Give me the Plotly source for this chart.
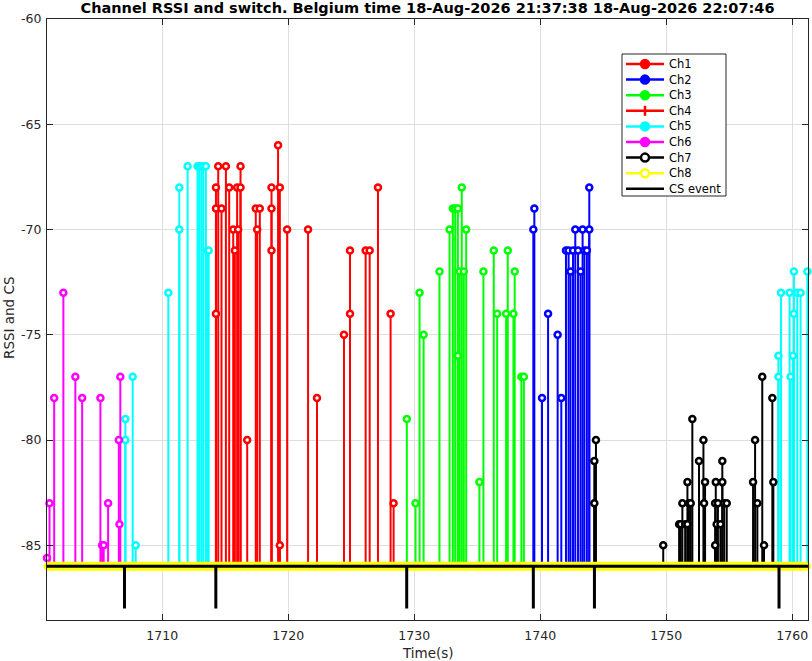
import plotly.graph_objects as go

# ---------------- data ----------------
ch1_t = [1714.26, 1714.26, 1714.26, 1714.44, 1714.7, 1715.05, 1715.31, 1715.63, 1715.76, 1715.94,
         1716.02, 1716.21, 1716.21, 1716.74, 1717.42, 1717.53, 1717.74, 1718.67, 1718.67, 1718.67,
         1719.19, 1719.33, 1719.33, 1719.91, 1721.57, 1722.28, 1724.42, 1724.9, 1724.9, 1726.14,
         1726.46, 1727.12, 1728.12, 1728.36]
ch1_v = [-68, -69, -74, -67, -69, -67, -68, -70, -71, -68,
         -70, -68, -67, -80, -69, -70, -69, -68, -69, -71,
         -66, -68, -85, -70, -70, -78, -75, -71, -74, -71,
         -71, -68, -74, -83]

ch2_t = [1739.45, 1739.53, 1740.14, 1740.62, 1741.38, 1741.67, 1742.04, 1742.25, 1742.4, 1742.6,
         1742.78, 1743.0, 1743.2, 1743.36, 1743.5, 1743.7, 1743.89, 1743.89]
ch2_v = [-70, -69, -78, -74, -75, -78, -71, -71, -72, -71,
         -70, -71, -72, -70, -71, -71, -70, -68]

ch3_t = [1729.41, 1730.1, 1730.42, 1730.74, 1732.0, 1732.8, 1733.06, 1733.25, 1733.46, 1733.46,
         1733.6, 1733.77, 1733.93, 1734.12, 1735.17, 1735.49, 1736.31, 1736.58, 1737.29, 1737.42,
         1737.87, 1737.97, 1738.5, 1738.7]
ch3_v = [-79, -83, -73, -75, -72, -70, -69, -69, -69, -76,
         -72, -68, -72, -70, -82, -72, -71, -74, -74, -71,
         -74, -72, -77, -77]

ch4_t = []
ch4_v = []

ch5_t = [1707.07, 1707.07, 1707.65, 1707.89, 1710.48, 1711.35, 1711.35, 1712.01, 1712.8, 1712.93,
         1713.1, 1713.25, 1713.46, 1713.6, 1713.68, 1758.9, 1758.9, 1759.11, 1759.79, 1759.87,
         1760.05, 1760.13, 1760.13, 1760.4, 1760.66, 1761.2]
ch5_v = [-79, -80, -77, -85, -73, -68, -70, -67, -67, -67,
         -67, -67, -67, -71, -71, -76, -77, -73, -73, -77,
         -76, -74, -72, -73, -73, -72]

ch6_t = [1700.85, 1701.05, 1701.42, 1702.15, 1703.1, 1703.64, 1705.09, 1705.22, 1705.35, 1705.7,
         1706.55, 1706.6, 1706.67]
ch6_v = [-85.6, -83, -78, -73, -77, -78, -78, -85, -85, -83,
         -80, -84, -77]

ch7_t = [1744.29, 1744.29, 1744.42, 1749.76, 1751.02, 1751.15, 1751.28, 1751.5, 1751.68, 1751.68,
         1751.8, 1751.94, 1752.07, 1752.6, 1752.95, 1753.0, 1753.08, 1753.88, 1753.88, 1753.93,
         1754.0, 1754.1, 1754.3, 1754.45, 1754.45, 1754.6, 1754.8, 1756.89, 1757.05, 1757.23,
         1757.62, 1757.76, 1758.42, 1758.5]
ch7_v = [-81, -83, -80, -85, -84, -84, -83, -84, -82, -84,
         -83, -83, -79, -81, -80, -83, -82, -83, -85, -82,
         -84, -83, -84, -81, -82, -83, -83, -82, -80, -83,
         -77, -85, -78, -82]

ch8_t = [1700.85, 1761.2]
ch8_v = [-86, -86]

cs_t = [1707.0, 1714.25, 1729.4, 1739.45, 1744.3, 1758.95]
cs_base = -86
cs_depth = -88

x_range = [1700.85, 1761.25]
y_range = [-88.55, -60]
x_ticks = [1710, 1720, 1730, 1740, 1750, 1760]
y_ticks = [-85, -80, -75, -70, -65, -60]

legend_names = ["Ch1", "Ch2", "Ch3", "Ch4", "Ch5", "Ch6", "Ch7", "Ch8", "CS event"]
title_text = "Channel RSSI and switch. Belgium time 18-Aug-2026 21:37:38 18-Aug-2026 22:07:46"
x_label = "Time(s)"
y_label = "RSSI and CS"

# ---------------- layout geometry (pixels) ----------------
W, H = 812, 661
L, R, T, B = 47, 808, 19, 620


def pxx(x):
    return (x - L) / (R - L)


def pxy(y):
    return (B - y) / (B - T)


font = "DejaVu Sans, Liberation Sans, sans-serif"
fig = go.Figure()


def stem_xy(t, v, base):
    xs, ys = [], []
    for a, b in zip(t, v):
        xs += [a, a, None]
        ys += [base, b, None]
    return xs, ys


channels = [
    ("Ch1", ch1_t, ch1_v, "#ff0000", "circle"),
    ("Ch2", ch2_t, ch2_v, "#0000ff", "circle"),
    ("Ch3", ch3_t, ch3_v, "#00ff00", "circle"),
    ("Ch4", ch4_t, ch4_v, "#ff0000", "cross"),
    ("Ch5", ch5_t, ch5_v, "#00ffff", "circle"),
    ("Ch6", ch6_t, ch6_v, "#ff00ff", "circle"),
    ("Ch7", ch7_t, ch7_v, "#000000", "circle"),
    ("Ch8", ch8_t, ch8_v, "#ffff00", "circle"),
]

for name, t, v, col, sym in channels[:7]:
    if not t:
        continue
    xs, ys = stem_xy(t, v, cs_base)
    fig.add_trace(go.Scatter(x=xs, y=ys, mode="lines", line=dict(color=col, width=2),
                             showlegend=False, hoverinfo="skip", name=name))
    fig.add_trace(go.Scatter(x=t, y=v, mode="markers", cliponaxis=False, name=name,
                             marker=dict(symbol="circle", size=6, color="white",
                                         line=dict(color=col, width=2.5)),
                             showlegend=False))

# Ch8 at the baseline
fig.add_trace(go.Scatter(x=ch8_t, y=ch8_v, mode="lines", line=dict(color="#ffff00", width=9),
                         showlegend=False, hoverinfo="skip", name="Ch8"))
fig.add_trace(go.Scatter(x=ch8_t, y=ch8_v, mode="markers", cliponaxis=False, name="Ch8",
                         marker=dict(symbol="circle", size=5, color="#ffff00",
                                     line=dict(color="#ffff00", width=2)),
                         showlegend=False, hoverinfo="skip"))

# CS event line with spikes
cs_x = [x_range[0]]
cs_y = [cs_base]
for a in cs_t:
    cs_x += [a, a, a]
    cs_y += [cs_base, cs_depth, cs_base]
cs_x.append(x_range[1])
cs_y.append(cs_base)
fig.add_trace(go.Scatter(x=cs_x, y=cs_y, mode="lines", name="CS event", showlegend=False,
                         line=dict(color="#000000", width=3)))

axis_common = dict(
    showgrid=True, gridcolor="#dedede", gridwidth=1,
    showline=True, linecolor="#262626", linewidth=1, mirror="ticks",
    ticks="inside", ticklen=6, tickcolor="#262626", tickwidth=1,
    zeroline=False, automargin=False,
    tickfont=dict(family=font, size=12.5, color="#262626"),
)

# ---------------- hand-drawn legend box (MATLAB style, compact) ----------------
shapes = []
annotations = []
lg_left, lg_right, lg_top, lg_bottom = 622, 726, 54, 196
shapes.append(dict(type="rect", xref="paper", yref="paper", layer="above",
                   x0=pxx(lg_left), x1=pxx(lg_right), y0=pxy(lg_bottom), y1=pxy(lg_top),
                   fillcolor="white", line=dict(color="#262626", width=1)))
legend_items = [(c[0], c[3], c[4]) for c in channels] + [("CS event", "#000000", None)]
for i, (name, col, sym) in enumerate(legend_items):
    yc = 64 + 15.6 * i
    shapes.append(dict(type="line", xref="paper", yref="paper", layer="above",
                       x0=pxx(626), x1=pxx(664), y0=pxy(yc), y1=pxy(yc),
                       line=dict(color=col, width=2.5)))
    if sym == "circle":
        shapes.append(dict(type="circle", xref="paper", yref="paper", layer="above",
                           xsizemode="pixel", ysizemode="pixel",
                           xanchor=pxx(645), yanchor=pxy(yc), x0=-4, x1=4, y0=-4, y1=4,
                           fillcolor="white" if name in ("Ch7", "Ch8") else col,
                           line=dict(color=col, width=2.5)))
    elif sym == "cross":
        shapes.append(dict(type="line", xref="paper", yref="paper", layer="above",
                           xsizemode="pixel", ysizemode="pixel",
                           xanchor=pxx(645), yanchor=pxy(yc), x0=0, x1=0, y0=-5, y1=5,
                           line=dict(color=col, width=2.5)))
    annotations.append(dict(text=name, xref="paper", yref="paper", x=pxx(667), y=pxy(yc),
                            xanchor="left", yanchor="middle", showarrow=False,
                            font=dict(family=font, size=11.5, color="#000000")))

annotations.append(dict(text=x_label, xref="paper", yref="paper", x=0.5, y=pxy(653),
                        xanchor="center", yanchor="middle", showarrow=False,
                        font=dict(family=font, size=13.5, color="#262626")))
annotations.append(dict(text=y_label, xref="paper", yref="paper", x=pxx(9), y=pxy(318),
                        xanchor="center", yanchor="middle", showarrow=False, textangle=-90,
                        font=dict(family=font, size=13.5, color="#262626")))

fig.update_layout(
    width=W, height=H,
    margin=dict(l=L, r=W - R, t=T, b=H - B, autoexpand=False),
    paper_bgcolor="white", plot_bgcolor="white",
    font=dict(family=font, color="#262626"),
    title=dict(text="<b>" + title_text + "</b>", x=0.5, xref="paper", xanchor="center",
               y=1 - 8 / H, yref="container", yanchor="middle", pad=dict(t=0, b=0),
               font=dict(family=font, size=14.5, color="#000000")),
    xaxis=dict(range=x_range, tickvals=x_ticks, ticktext=[str(v) for v in x_ticks],
               ticklabelstandoff=4, **axis_common),
    yaxis=dict(range=y_range, tickvals=y_ticks, ticktext=[str(v) for v in y_ticks],
               ticklabelstandoff=2, **axis_common),
    shapes=shapes,
    annotations=annotations,
    showlegend=False,
)

fig.write_html("out.html", config={"displayModeBar": False},
               post_script="document.body.style.margin='0';document.body.style.overflow='hidden';")
